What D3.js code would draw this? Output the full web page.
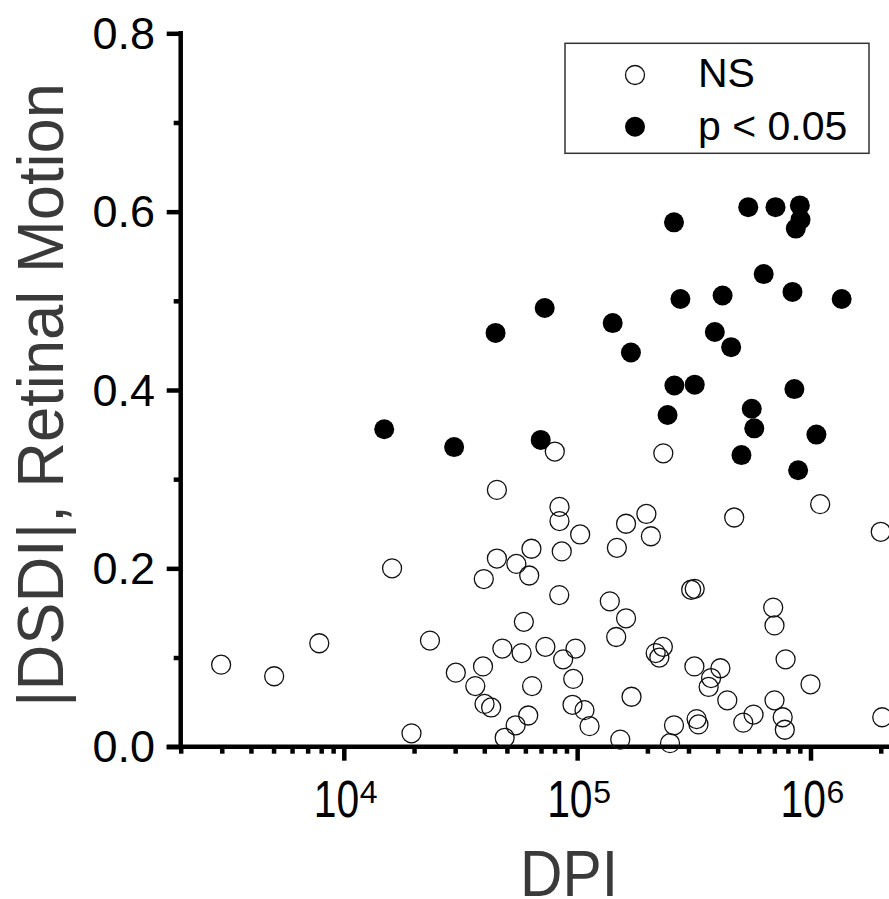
<!DOCTYPE html>
<html>
<head>
<meta charset="utf-8">
<script src="https://cdn.jsdelivr.net/npm/d3@7"></script>
<style>
  html, body { margin: 0; padding: 0; background: #fff; }
  svg { display: block; }
  text { font-family: "Liberation Sans", Arial, sans-serif; }
</style>
</head>
<body>
<svg id="chart" width="889" height="899"></svg>
<script>
// ---- data ----
const nsDPI = [
  2980, 5030, 7850, 16100, 19500, 23400, 30200, 39500, 36600, 40100, 42800,
  45300, 45300, 39800, 47800, 48900, 54500, 54900, 57800, 59100, 61700, 62300,
  63700, 64100, 73100, 83800, 84000, 84000, 85900, 87100, 95500, 96200, 98400,
  103000, 107500, 113000, 138000, 147000, 148000, 153000, 162000, 162000, 171000,
  198000, 207000, 217000, 233000, 225000, 80200, 234000, 260000, 250000, 308000,
  319000, 318000, 325000, 331000, 366000, 375000, 411000, 440000, 471000, 515000,
  570000, 692000, 701000, 701000, 760000, 776000, 782000, 1000000, 1100000,
  2000000, 2030000
];
const nsDSDI = [
  0.092, 0.079, 0.116, 0.200, 0.015, 0.119, 0.083, 0.090, 0.068, 0.048, 0.044,
  0.288, 0.211, 0.188, 0.110, 0.010, 0.024, 0.205, 0.105, 0.140, 0.035, 0.192,
  0.222, 0.068, 0.112, 0.170, 0.269, 0.253, 0.219, 0.098, 0.047, 0.076, 0.110,
  0.238, 0.041, 0.023, 0.163, 0.123, 0.223, 0.008, 0.144, 0.250, 0.056,
  0.261, 0.236, 0.105, 0.112, 0.100, 0.331, 0.329, 0.024, 0.004, 0.176,
  0.177, 0.090, 0.031, 0.025, 0.067, 0.077, 0.088, 0.052, 0.257, 0.027,
  0.036, 0.156, 0.136, 0.052, 0.033, 0.019, 0.098, 0.070, 0.272,
  0.241, 0.033
];
const sigDPI = [
  260000, 541000, 708000, 900000, 906000, 865000, 630000, 277000, 420000, 837000,
  1360000, 142000, 170000, 389000, 457000, 261000, 319000, 853000, 244000, 560000,
  574000, 1060000, 506000, 885000, 72600, 44700, 14900, 29700, 69800
];
const sigDSDI = [
  0.588, 0.605, 0.605, 0.607, 0.591, 0.581, 0.530, 0.502, 0.506, 0.510,
  0.502, 0.475, 0.442, 0.465, 0.448, 0.405, 0.406, 0.401, 0.372, 0.379,
  0.357, 0.350, 0.327, 0.310, 0.492, 0.464, 0.356, 0.336, 0.344
];
const yTicks = [0, 0.2, 0.4, 0.6, 0.8];
const yTickLabels = ["0.0", "0.2", "0.4", "0.6", "0.8"];
const yMinor = [0.1, 0.3, 0.5, 0.7];
const xMajor = [1e4, 1e5, 1e6];
const xExponents = ["4", "5", "6"];
const xMinor = [2e3, 3e3, 4e3, 5e3, 6e3, 7e3, 8e3, 9e3,
                2e4, 3e4, 4e4, 5e4, 6e4, 7e4, 8e4, 9e4,
                2e5, 3e5, 4e5, 5e5, 6e5, 7e5, 8e5, 9e5,
                2e6, 3e6];
const legendLabels = ["NS", "p < 0.05"];
const xTitle = "DPI";
const yTitle = "|DSDI|, Retinal Motion";

// ---- layout ----
const svg = d3.select("#chart");
const plotLeft = 180.7, plotBottom = 746.7, plotTop = 33.3;
const x = d3.scaleLog().domain([2000, 3e6]).range([plotLeft, plotLeft + Math.log10(1500) * 233.35]);
const y = d3.scaleLinear().domain([0, 0.8]).range([plotBottom, plotTop]);
const axisW = 4.5;

// y axis
const yAxisG = svg.append("g").attr("transform", `translate(${plotLeft},0)`);
yAxisG.call(d3.axisLeft(y).tickValues(yTicks).tickSize(14).tickSizeOuter(0).tickFormat(""));
yAxisG.append("g").call(d3.axisLeft(y).tickValues(yMinor).tickSize(7).tickFormat(""));
yAxisG.selectAll(".domain").remove();
yAxisG.selectAll("line").attr("stroke", "#000").attr("stroke-width", axisW);
yAxisG.append("line").attr("x1", 0).attr("x2", 0)
  .attr("y1", y(0.8) - axisW / 2).attr("y2", y(0) + axisW / 2)
  .attr("stroke", "#000").attr("stroke-width", axisW);
yAxisG.selectAll(".ylab").data(yTicks).join("text")
  .attr("class", "ylab")
  .attr("x", -25.7).attr("y", d => y(d) + 15.5)
  .attr("text-anchor", "end").attr("font-size", 45).attr("fill", "#000")
  .attr("font-family", "'Liberation Sans', Arial, sans-serif")
  .text((d, i) => yTickLabels[i]);

// x axis
const xAxisG = svg.append("g").attr("transform", `translate(0,${plotBottom})`);
xAxisG.call(d3.axisBottom(x).tickValues(xMajor).tickSize(14).tickSizeOuter(0).tickFormat(""));
xAxisG.append("g").call(d3.axisBottom(x).tickValues(xMinor).tickSize(7).tickSizeOuter(0).tickFormat(""));
xAxisG.selectAll(".domain").remove();
xAxisG.selectAll("line").attr("stroke", "#000").attr("stroke-width", axisW);
xAxisG.append("line").attr("x1", plotLeft - 14).attr("x2", 889 + 20)
  .attr("y1", 0).attr("y2", 0).attr("stroke", "#000").attr("stroke-width", axisW);

const xl = xAxisG.selectAll(".xlab").data(xMajor).join("g")
  .attr("class", "xlab")
  .attr("text-anchor", "start")
  .attr("font-family", "'Liberation Sans', Arial, sans-serif")
  .attr("transform", d => `translate(${x(d)},0)`);
xl.append("text")
  .attr("text-anchor", "start")
  .attr("transform", "translate(-30,70) scale(0.8,1)")
  .attr("font-size", 51).attr("fill", "#000").text("10");
xl.append("text")
  .attr("text-anchor", "start")
  .attr("x", 16).attr("y", 56.5)
  .attr("font-size", 32).attr("fill", "#000")
  .text((d, i) => xExponents[i]);

// titles
svg.append("text")
  .attr("x", 569).attr("y", 895.5)
  .attr("text-anchor", "middle").attr("font-size", 65).attr("fill", "#3a3a3a")
  .attr("textLength", 98).attr("lengthAdjust", "spacingAndGlyphs")
  .text(xTitle);
svg.append("text")
  .attr("transform", "translate(63,395) rotate(-90)")
  .attr("text-anchor", "middle").attr("font-size", 64).attr("fill", "#3a3a3a")
  .attr("textLength", 624).attr("lengthAdjust", "spacingAndGlyphs")
  .text(yTitle);

// points
const r = 9.5;
svg.append("g").selectAll("circle").data(nsDPI).join("circle")
  .attr("cx", d => x(d)).attr("cy", (d, i) => y(nsDSDI[i]))
  .attr("r", r).attr("fill", "none").attr("stroke", "#111").attr("stroke-width", 1.3);
svg.append("g").selectAll("circle").data(sigDPI).join("circle")
  .attr("cx", d => x(d)).attr("cy", (d, i) => y(sigDSDI[i]))
  .attr("r", 10).attr("fill", "#000");

// legend
const lg = svg.append("g");
lg.append("rect").attr("x", 565).attr("y", 43.3).attr("width", 304).attr("height", 110)
  .attr("fill", "#fff").attr("stroke", "#333").attr("stroke-width", 1.5);
lg.append("circle").attr("cx", 635).attr("cy", 75).attr("r", r)
  .attr("fill", "none").attr("stroke", "#111").attr("stroke-width", 1.3);
lg.append("circle").attr("cx", 635).attr("cy", 126.7).attr("r", 10).attr("fill", "#000");
lg.selectAll(".ltxt").data(legendLabels).join("text")
  .attr("class", "ltxt")
  .attr("x", 698).attr("y", (d, i) => i === 0 ? 87 : 140)
  .attr("font-size", 41).attr("fill", "#000")
  .text(d => d);
</script>
</body>
</html>
